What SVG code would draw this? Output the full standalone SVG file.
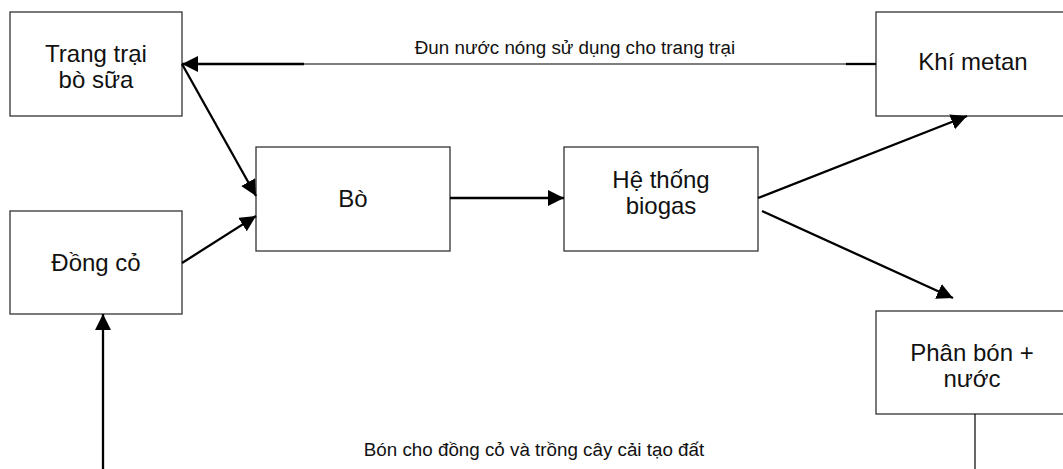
<svg xmlns="http://www.w3.org/2000/svg" width="1063" height="469" viewBox="0 0 1063 469">
<style>
.box{fill:#fff;stroke:#333;stroke-width:1.3}
.t{font-family:"Liberation Sans",Arial,sans-serif;font-size:24px;fill:#111;text-anchor:middle}
.lbl{font-family:"Liberation Sans",Arial,sans-serif;font-size:18.8px;fill:#111;text-anchor:middle}
.c{fill:none;stroke:#000;stroke-width:2.3}
.thin{fill:none;stroke:#000;stroke-width:1.2}
</style>
<defs>
<marker id="ah" markerUnits="userSpaceOnUse" markerWidth="17" markerHeight="17" refX="16" refY="8" orient="auto">
<path d="M0,0 L16,8 L0,16 z" fill="#000"/>
</marker>
</defs>
<rect width="1063" height="469" fill="#fff"/>
<g id="n-trangtrai"><rect class="box" x="10" y="12" width="172" height="104"/><text class="t" x="96" y="62">Trang trại</text><text class="t" x="96" y="88">bò sữa</text></g>
<g id="n-dongco"><rect class="box" x="10" y="211" width="172" height="103"/><text class="t" x="96" y="271">Đồng cỏ</text></g>
<g id="n-bo"><rect class="box" x="256" y="147" width="194" height="104"/><text class="t" x="353" y="207">Bò</text></g>
<g id="n-biogas"><rect class="box" x="564" y="147" width="194" height="104"/><text class="t" x="661" y="188">Hệ thống</text><text class="t" x="661" y="214">biogas</text></g>
<g id="n-metan"><rect class="box" x="876" y="12" width="194" height="104"/><text class="t" x="973" y="70">Khí metan</text></g>
<g id="n-phanbon"><rect class="box" x="876" y="311" width="194" height="103"/><text class="t" x="972" y="361">Phân bón +</text><text class="t" x="972" y="387">nước</text></g>
<g id="connectors">
<line class="thin" x1="304" y1="64" x2="876" y2="64"/>
<line class="c" x1="304" y1="64" x2="182" y2="64" marker-end="url(#ah)"/>
<line class="c" x1="846" y1="64" x2="876" y2="64"/>
<line class="c" x1="182" y1="64" x2="256" y2="196" marker-end="url(#ah)"/>
<line class="c" x1="182" y1="263" x2="256" y2="216" marker-end="url(#ah)"/>
<line class="c" x1="450" y1="198" x2="564" y2="198" marker-end="url(#ah)"/>
<line class="c" x1="758" y1="198" x2="967" y2="116" marker-end="url(#ah)"/>
<line class="c" x1="762" y1="211" x2="953" y2="298" marker-end="url(#ah)"/>
<line class="thin" x1="975" y1="414" x2="975" y2="470"/>
<line class="c" x1="103" y1="470" x2="103" y2="314" marker-end="url(#ah)"/>
<text class="lbl" x="575" y="54">Đun nước nóng sử dụng cho trang trại</text>
<text class="lbl" x="534" y="456">Bón cho đồng cỏ và trồng cây cải tạo đất</text>
</g>
</svg>
